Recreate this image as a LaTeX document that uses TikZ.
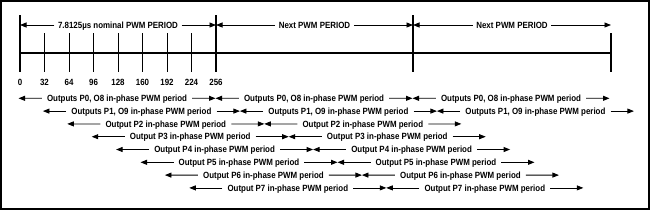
\documentclass[tikz,border=0pt]{standalone}
\usepackage{fontspec}
\setmainfont{Liberation Sans}
\newfontfamily\lblfont{Liberation Sans Bold}[FakeStretch=0.88]
\usetikzlibrary{arrows.meta,calc}
\begin{document}
\begin{tikzpicture}[x=1pt,y=-1pt,
  lbl/.style={font=\lblfont\fontsize{9}{10}\selectfont, inner ysep=0pt, inner xsep=5pt, text height=6.4pt, text depth=0pt},
  toplbl/.style={lbl, inner xsep=3.5pt},
  numlbl/.style={font=\lblfont\fontsize{9}{10}\selectfont, inner sep=0pt, text height=6.4pt, text depth=0pt},
  arr/.style={-{Triangle[length=6.5pt,width=5pt]}, line width=0.8pt},
  axis/.style={line width=1.8pt},
  bigtick/.style={line width=1.6pt},
  smalltick/.style={line width=0.9pt}]
\useasboundingbox (0,0) rectangle (650,210);
\draw[line width=1.2pt] (1,1) rectangle (649,209);
% axis
\coordinate (A0) at (20,53);
\coordinate (A3) at (611,53);
\draw[axis] (A0) -- (A3);
\foreach \x/\nm in {20/B0,216/B1,413/B2} {
  \coordinate (\nm t) at (\x,15);
  \coordinate (\nm b) at (\x,72);
  \draw[bigtick] (\nm t) -- (\nm b);
}
\coordinate (B3t) at (611,33);
\coordinate (B3b) at (611,72);
\draw[bigtick] (B3t) -- (B3b);
\foreach \i in {1,...,7} {
  \pgfmathsetmacro\xx{20+24.5*\i}
  \coordinate (S\i t) at (\xx,33);
  \coordinate (S\i b) at (\xx,72);
  \draw[smalltick] (S\i t) -- (S\i b);
}
\foreach \i/\v in {0/0,1/32,2/64,3/96,4/128,5/160,6/192,7/224,8/256} {
  \pgfmathsetmacro\xx{20+24.5*\i}
  \node[numlbl] (N\i) at (\xx,82) {\v};
}
% top periods
\coordinate (P0) at (20,25);
\coordinate (P1) at (216,25);
\coordinate (P2) at (413,25);
\coordinate (P3) at (611,25);
\node[toplbl] (H1) at ($(P0)!0.5!(P1)$) {7.8125µs nominal PWM PERIOD};
\node[toplbl] (H2) at ($(P1)!0.5!(P2)$) {Next PWM PERIOD};
\node[toplbl] (H3) at ($(P2)!0.5!(P3)$) {Next PWM PERIOD};
\draw[arr] (H1.west) -- (P0);
\draw[arr] (H1.east) -- (P1);
\draw[arr] (H2.west) -- (P1);
\draw[arr] (H2.east) -- (P2);
\draw[arr] (H3.west) -- (P2);
\draw[arr] (H3.east) -- (P3);
% output rows
\foreach \k/\nm/\n in {0/{Outputs P0, O8}/3, 1/{Outputs P1, O9}/3, 2/{Output P2}/2, 3/{Output P3}/2, 4/{Output P4}/2, 5/{Output P5}/2, 6/{Output P6}/2, 7/{Output P7}/2} {
  \pgfmathsetmacro\yy{98.3+12.8*\k}
  \pgfmathsetmacro\xs{18.5+24.4*\k}
  \foreach \j in {1,...,\n} {
    \pgfmathsetmacro\xl{\xs+197*(\j-1)}
    \pgfmathsetmacro\xr{\xl+197}
    \coordinate (L\k\j) at (\xl,\yy);
    \coordinate (R\k\j) at (\xr,\yy);
    \node[lbl] (T\k\j) at ($(L\k\j)!0.5!(R\k\j)$) {\nm\ in-phase PWM period};
    \draw[arr] (T\k\j.west) -- (L\k\j);
    \draw[arr] (T\k\j.east) -- (R\k\j);
  }
}
\end{tikzpicture}
\end{document}
